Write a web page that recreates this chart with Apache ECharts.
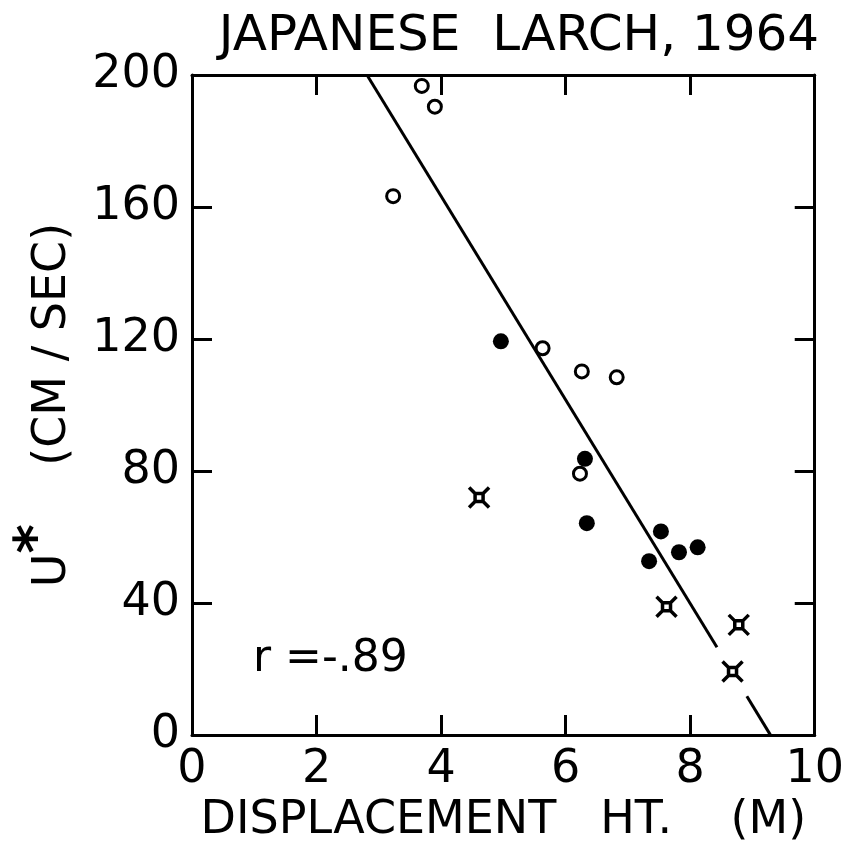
<!DOCTYPE html>
<html><head><meta charset="utf-8">
<script src="https://cdn.jsdelivr.net/npm/echarts@6/dist/echarts.min.js"></script>
<style>html,body{margin:0;padding:0;background:#fff}#c{width:847px;height:849px}</style>
</head><body><div id="c"></div>
<script>
// data: [displacement height (m), u* (cm/sec)]
const openCircles = [[3.69,196.7],[3.90,190.4],[3.23,163.3],[5.63,117.2],[6.26,110.2],[6.82,108.4],[6.23,79.2]];
const filledCircles = [[4.96,119.3],[6.31,83.7],[6.34,64.2],[7.53,61.7],[7.34,52.7],[7.82,55.4],[8.12,56.9]];
const crossPoints = [[4.61,72.0],[7.62,38.9],[8.78,33.4],[8.68,19.3]];
const fitLineA = [[2.81,200],[8.43,26.6]];
const fitLineB = [[8.91,11.8],[9.29,0]];
const xTicks = [0,2,4,6,8,10];
const yTicks = [0,40,80,120,160,200];
const titleText = 'JAPANESE  LARCH, 1964';
const xName = 'DISPLACEMENT   HT.    (M)';
const yNameUnit = '(CM / SEC)';
const rText = 'r =-.89';

const FONT = 'DejaVu Sans';
const chart = echarts.init(document.getElementById('c'), null, {renderer:'canvas'});
const crossPath = 'path://M0,0 L6,6 M20,0 L14,6 M0,20 L6,14 M20,20 L14,14 M6,6 L14,6 L14,14 L6,14 Z';
const tickStyle = {show:true, inside:true, length:20, lineStyle:{color:'#000', width:3}};
const axisBase = {
  type:'value', splitLine:{show:false},
  axisLine:{show:true, onZero:false, lineStyle:{color:'#000', width:3}},
};
chart.setOption({
  animation:false,
  backgroundColor:'#fff',
  title:[
    {text:titleText, left:514, top:7, textAlign:'center', textStyle:{fontFamily:FONT, fontWeight:'normal', fontSize:50, color:'#000'}},
    {text:rText, left:248, top:633, textStyle:{fontFamily:FONT, fontWeight:'normal', fontSize:44, color:'#000'}}
  ],
  grid:{left:192, right:32, top:75, bottom:110},
  xAxis:[
    Object.assign({}, axisBase, {min:0, max:10, interval:2, position:'bottom',
      axisLabel:{show:true, margin:12, fontFamily:FONT, fontSize:46, color:'#000', formatter:v=>xTicks.includes(v)?String(v):''},
      axisTick:Object.assign({customValues:[2,4,6,8]}, tickStyle),
      name:xName, nameLocation:'middle', nameGap:58,
      nameTextStyle:{fontFamily:FONT, fontSize:46, color:'#000'}}),
    Object.assign({}, axisBase, {min:0, max:10, interval:2, position:'top',
      axisLabel:{show:false},
      axisTick:Object.assign({customValues:[2,4,6,8]}, tickStyle)})
  ],
  yAxis:[
    Object.assign({}, axisBase, {min:0, max:200, interval:40, position:'left',
      axisLabel:{show:true, margin:12, fontFamily:FONT, fontSize:46, color:'#000', formatter:v=>yTicks.includes(v)?String(v):''},
      axisTick:Object.assign({customValues:[40,80,120,160]}, tickStyle),
      name:'{u|U}{a|*}    {t|' + yNameUnit + '}', nameLocation:'middle', nameGap:116, nameRotate:90,
      nameTextStyle:{fontFamily:FONT, fontSize:46, color:'#000',
        rich:{u:{fontFamily:FONT, fontSize:46, color:'#000', lineHeight:66, verticalAlign:'bottom'},
              a:{fontFamily:FONT, fontSize:56, fontWeight:'bold', color:'#000', lineHeight:66, verticalAlign:'top'},
              t:{fontFamily:FONT, fontSize:46, color:'#000', lineHeight:66, verticalAlign:'bottom'}}}}),
    Object.assign({}, axisBase, {min:0, max:200, interval:40, position:'right',
      axisLabel:{show:false},
      axisTick:Object.assign({customValues:[40,80,120,160]}, tickStyle)})
  ],
  series:[
    {type:'line', data:fitLineA, symbol:'none', lineStyle:{color:'#000', width:3}, z:1},
    {type:'line', data:fitLineB, symbol:'none', lineStyle:{color:'#000', width:3}, z:1},
    {type:'scatter', data:openCircles, symbol:'circle', symbolSize:13, itemStyle:{color:'#fff', borderColor:'#000', borderWidth:3, opacity:1}, z:3},
    {type:'scatter', data:filledCircles, symbol:'circle', symbolSize:16, itemStyle:{color:'#000', opacity:1}, z:3},
    {type:'scatter', data:crossPoints, symbol:crossPath, symbolSize:20, itemStyle:{color:'rgba(0,0,0,0)', borderColor:'#000', borderWidth:3.5, opacity:1}, z:3}
  ]
});
</script></body></html>
